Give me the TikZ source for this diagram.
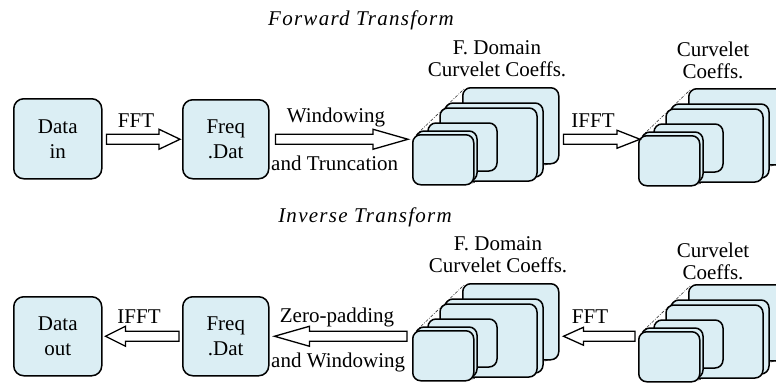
\documentclass[tikz,border=0pt]{standalone}
\usepackage{fontspec}
\setmainfont{Liberation Serif}
\usetikzlibrary{calc}
\definecolor{cardblue}{HTML}{DBEEF4}
\tikzset{
  card/.style={draw=black, fill=cardblue, line width=1.5bp, rounded corners=8bp},
  boxnode/.style={card, rounded corners=10bp, inner sep=0pt, anchor=north west, align=center},
  blockarrow/.style={draw=black, fill=white, line width=1.3bp, line join=miter},
  lbl/.style={inner sep=0pt, anchor=base},
  persp/.style={draw=black!80, line width=0.6bp, dash pattern=on 3bp off 1.5bp on 0.8bp off 1.5bp},
  stacklbl/.style={inner sep=0pt, align=center, font=\fontsize{21bp}{22bp}\selectfont},
  ttl/.style={inner sep=0pt, anchor=base, font=\fontsize{21bp}{25bp}\selectfont\itshape\addfontfeatures{LetterSpace=6}},
}
% #1 name, #2 x, #3 y of the front card's top-left corner
\newcommand\cstack[3]{%
  \begin{scope}[shift={(#2,#3)}]
    \draw[persp] (4,1) -- (52,-45);
    \draw[persp] (60,49) -- (145,28);
    \node[card, inner sep=0pt, minimum width=96bp, minimum height=76bp, anchor=north west] (#1b) at (50,-47) {};
    \draw[card] (33,-31) rectangle (131,43);
    \draw[card] (28,-26) rectangle (125,47);
    \draw[card] (16,-11) rectangle (85,37);
    \draw[card] (4,-3) rectangle (65,47);
    \node[card, inner sep=0pt, minimum width=61bp, minimum height=50bp, anchor=north west] (#1) at (0,0) {};
  \end{scope}}
% #1 tail, #2 tip, #3 y reference, #4 signed head length, #5 head half height
\newcommand\blockarr[5]{%
  \draw[blockarrow] let \p1=(#1), \p2=(#2), \p3=(#3) in
    (\x1,{\y3+5bp}) -- ({\x2-(#4)},{\y3+5bp}) -- ({\x2-(#4)},{\y3+#5}) -- (\x2,\y3)
    -- ({\x2-(#4)},{\y3-#5}) -- ({\x2-(#4)},{\y3-5bp}) -- (\x1,{\y3-5bp}) -- cycle;}
\begin{document}
\begin{tikzpicture}[x=1bp, y=-1bp, every node/.style={font=\fontsize{21bp}{25bp}\selectfont}]
  \useasboundingbox (0,0) rectangle (776,385);
  \clip (0,0) rectangle (776,385);

  % titles
  \node[ttl] (t1) at (361,25) {Forward Transform};
  \node[ttl] (t2) at (365,222) {Inverse Transform};

  % boxes
  \node[boxnode, minimum width=88bp, minimum height=80bp] (datain) at (13,98) {Data\\in};
  \node[boxnode, minimum width=86bp, minimum height=79bp] (freqA) at (182,99) {Freq\\.Dat};
  \node[boxnode, minimum width=88bp, minimum height=79bp] (dataout) at (13,296) {Data\\out};
  \node[boxnode, minimum width=86bp, minimum height=79bp] (freqB) at (182,296) {Freq\\.Dat};

  % stacks
  \cstack{sA}{412}{134}
  \cstack{sB}{638}{135}
  \cstack{sC}{412}{330}
  \cstack{sD}{638}{331}

  % stack labels
  \node[stacklbl] (lA) at (497,59) {F. Domain\\Curvelet Coeffs.};
  \node[stacklbl] (lB) at (713,60) {Curvelet\\Coeffs.};
  \node[stacklbl] (lC) at (498,255) {F. Domain\\Curvelet Coeffs.};
  \node[stacklbl] (lD) at (713,261) {Curvelet\\Coeffs.};

  % arrows
  \blockarr{[xshift=4bp]datain.east}{[xshift=-2bp]freqA.west}{freqA.center}{21bp}{10bp}
  \blockarr{[xshift=6bp]freqA.east}{[xshift=-4bp]sA.west}{freqA.center}{35bp}{10bp}
  \blockarr{[xshift=4bp]sAb.east}{[xshift=2bp]sB.west}{freqA.center}{23bp}{9bp}
  \blockarr{[xshift=-3bp]freqB.west}{[xshift=3bp]dataout.east}{freqB.center}{-20bp}{10bp}
  \blockarr{[xshift=-5bp]sC.west}{[xshift=5bp]freqB.east}{freqB.center}{-35bp}{10bp}
  \blockarr{[xshift=-3bp]sD.west}{[xshift=4bp]sCb.east}{freqB.center}{-20bp}{9bp}

  % arrow labels
  \node[lbl] (lfft1) at (136,127) {FFT};
  \node[lbl] (lwin) at (336,122) {Windowing};
  \node[lbl, anchor=base west] (ltrunc) at (271,170) {and Truncation};
  \node[lbl] (lifft1) at (593,127) {IFFT};
  \node[lbl] (lifft2) at (139,323) {IFFT};
  \node[lbl] (lzero) at (337,322) {Zero-padding};
  \node[lbl, anchor=base west] (lwin2) at (271,367) {and Windowing};
  \node[lbl] (lfft2) at (590,323) {FFT};
\end{tikzpicture}
\end{document}
